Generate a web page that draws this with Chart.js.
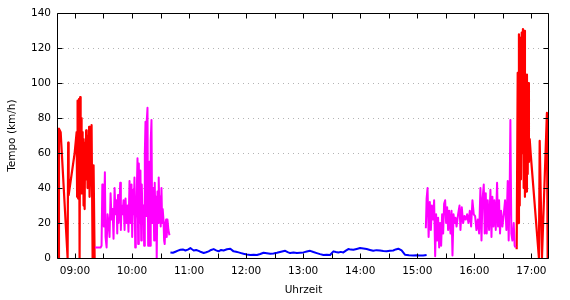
<!DOCTYPE html>
<html>
<head>
<meta charset="utf-8">
<script src="https://cdn.jsdelivr.net/npm/chart.js@4/dist/chart.umd.min.js"></script>
<style>
    html, body { margin: 0; padding: 0; background: #fff; }
    #wrap { width: 570px; height: 300px; }
</style>
</head>
<body>
<div id="wrap"><canvas id="speed_chart"></canvas></div>
<script>
// Zeiten in Minuten seit Mitternacht, Tempo in km/h
const xMin = 522.2;   // ca. 08:42
const xMax = 1038.5;  // ca. 17:18
const hourTicks = [540, 600, 660, 720, 780, 840, 900, 960, 1020];
const speedTicks = [0, 20, 40, 60, 80, 100, 120, 140];

// Auto (rot), Hinweg
const carTimes1 = [522.4, 523.2, 525.0, 532.3, 532.9, 533.4, 539.7, 541.8, 542.3, 542.8,
    543.4, 544.4, 544.9, 545.5, 546.0, 546.5, 547.0, 547.6, 548.1, 548.6,
    549.1, 549.7, 550.2, 550.7, 551.2, 551.8, 552.3, 552.8, 553.3, 553.9,
    554.4, 554.9, 555.4, 556.5, 557.5, 558.6, 559.6, 560.7];
const carSpeeds1 = [0, 74, 72, 0, 66, 36, 60, 72, 35, 90,
    34, 91, 0, 92, 55, 80, 37, 72, 50, 68,
    30, 62, 28, 66, 45, 73, 55, 65, 40, 70,
    57, 75, 35, 60, 76, 0, 53, 0];

// Fahrrad (magenta), vormittags
const bikeTimes1 = [561.0, 561.7, 567.0, 568.0, 568.8, 569.4, 570.4, 571.5, 572.2, 573.3,
    574.3, 575.4, 576.4, 577.5, 578.5, 579.6, 580.6, 581.7, 582.7, 583.8,
    584.5, 585.3, 585.9, 586.9, 587.6, 588.3, 589.0, 590.1, 591.1, 592.2,
    593.2, 594.3, 595.3, 596.3, 597.4, 598.4, 599.5, 600.2, 601.3, 601.9,
    602.6, 603.4, 604.0, 604.7, 605.8, 606.5, 607.2, 607.9, 608.9, 609.7,
    610.3, 611.0, 612.1, 612.8, 613.5, 614.2, 614.9, 615.6, 616.3, 617.0,
    617.6, 618.4, 619.1, 619.7, 620.5, 621.2, 621.8, 622.6, 623.3, 623.9,
    624.7, 625.4, 626.0, 626.8, 627.5, 628.1, 628.9, 629.6, 630.2, 631.0,
    631.7, 632.3, 633.1, 633.8, 634.4, 635.2, 635.9, 636.5, 637.3, 638.3,
    639.4];
const bikeSpeeds1 = [6, 6, 6, 7, 42, 35, 18, 49, 12, 6,
    25, 20, 12, 37, 22, 28, 11, 40, 25, 33,
    14, 36, 20, 30, 43, 16, 30, 25, 33, 16,
    34, 20, 30, 15, 44, 20, 42, 12, 39, 25,
    46, 6, 22, 30, 57, 8, 54, 20, 50, 10,
    42, 25, 30, 7, 60, 78, 24, 79, 86, 7,
    40, 55, 7, 67, 79, 20, 30, 40, 10, 43,
    22, 35, 0, 38, 20, 46, 25, 35, 18, 40,
    20, 28, 22, 10, 8, 20, 22, 12, 22, 16,
    13];

// zu Fuss (blau)
const walkTimes = [640.4, 643.0, 645.7, 648.3, 650.9, 653.5, 656.2, 658.8, 661.4, 663.1,
    664.9, 667.5, 670.1, 672.7, 675.4, 678.0, 680.6, 683.2, 685.9, 688.5,
    691.1, 693.7, 696.3, 699.9, 703.4, 706.8, 709.4, 712.1, 714.7, 717.3,
    720.8, 724.4, 727.9, 731.4, 734.9, 738.3, 741.8, 745.3, 748.8, 752.4,
    756.7, 761.1, 763.7, 766.3, 769.8, 773.4, 776.8, 780.3, 783.8, 787.3,
    790.8, 794.3, 797.8, 801.3, 804.8, 808.3, 811.8, 814.4, 817.0, 819.6,
    822.3, 824.9, 827.5, 830.1, 832.8, 836.3, 839.8, 843.3, 846.8, 850.2,
    853.7, 857.2, 860.8, 864.3, 867.8, 871.2, 874.7, 877.3, 880.0, 883.5,
    887.0, 891.3, 895.7, 899.2, 902.7, 906.2, 909.8];
const walkSpeeds = [3.2, 3.0, 3.6, 4.2, 4.7, 4.9, 4.3, 4.8, 5.7, 5.0,
    4.3, 4.6, 4.1, 3.4, 2.9, 3.3, 3.8, 4.6, 5.1, 4.4,
    3.8, 4.6, 4.3, 5.0, 5.3, 3.8, 3.6, 3.2, 2.8, 2.4,
    2.0, 1.7, 1.9, 1.7, 2.3, 3.0, 2.7, 2.4, 2.6, 3.0,
    3.6, 4.1, 3.4, 2.8, 3.1, 2.8, 3.0, 3.2, 3.7, 4.1,
    3.4, 2.8, 2.2, 1.7, 1.9, 1.7, 3.8, 3.4, 3.2, 3.5,
    3.2, 4.2, 5.1, 4.8, 4.7, 5.2, 5.7, 5.4, 5.1, 4.6,
    4.1, 4.5, 4.3, 4.0, 3.8, 4.1, 4.3, 4.9, 5.3, 4.3,
    1.9, 1.6, 1.5, 1.6, 1.5, 1.4, 1.7];

// Fahrrad (magenta), nachmittags
const bikeTimes2 = [909.0, 909.8, 910.8, 911.9, 913.2, 914.3, 915.3, 916.7, 917.7, 918.8,
    919.8, 920.9, 921.9, 923.0, 924.0, 925.1, 926.1, 927.2, 928.2, 929.3,
    930.3, 931.4, 932.4, 933.5, 934.9, 936.0, 937.0, 938.1, 939.2, 940.2,
    941.3, 942.9, 944.4, 945.4, 946.8, 948.2, 949.6, 951.0, 952.4, 953.8,
    955.2, 956.6, 958.0, 959.4, 960.8, 962.2, 963.6, 965.0, 966.4, 967.5,
    968.5, 969.9, 970.9, 972.0, 973.0, 974.1, 975.5, 976.9, 978.0, 979.0,
    980.1, 981.1, 982.5, 983.9, 984.9, 986.0, 987.0, 988.1, 989.5, 990.9,
    992.3, 993.7, 995.1, 996.1, 997.2, 997.9, 998.9, 1000.0, 1001.4, 1002.4,
    1003.5];
const bikeSpeeds2 = [17, 34, 40, 12, 32, 16, 30, 22, 33, 1,
    25, 10, 23, 6, 20, 7, 25, 14, 31, 33,
    20, 29, 16, 27, 14, 27, 1.5, 25, 20, 23,
    18, 25, 30, 16, 29, 20, 24, 22, 25, 20,
    27, 18, 33, 25, 24, 16, 22, 14, 40, 10,
    33, 42, 14, 37, 14, 33, 16, 39, 12, 35,
    18, 33, 16, 43, 18, 33, 14, 27, 18, 25,
    33, 16, 44, 10, 41, 79, 14, 10, 20, 7,
    6];

// Auto (rot), Rueckweg
const carTimes2 = [1004.5, 1005.6, 1006.3, 1006.9, 1007.7, 1008.4, 1009.0, 1009.8, 1010.5, 1011.1,
    1011.9, 1012.6, 1013.2, 1014.0, 1014.7, 1015.3, 1016.1, 1016.8, 1017.4, 1018.2,
    1019.2, 1027.9, 1028.7, 1031.1, 1036.3, 1037.1, 1038.1];
const carSpeeds2 = [5, 106, 20, 128, 30, 126, 45, 129, 60, 131,
    40, 130, 35, 90, 38, 105, 48, 100, 55, 68,
    60, 0, 67, 0, 83, 0, 40];

const RED = '#ff0000';
const MAGENTA = '#ff00ff';
const BLUE = '#0000ff';
const FONT = { family: 'DejaVu Sans', size: 10.5 };

function pairUp(times, speeds) {
    return times.map((t, i) => ({ x: t, y: speeds[i] }));
}

function clock(min) {
    const h = Math.floor(min / 60);
    const m = Math.round(min % 60);
    return String(h).padStart(2, '0') + ':' + String(m).padStart(2, '0');
}

function line(times, speeds, color, width) {
    return {
        data: pairUp(times, speeds),
        borderColor: color,
        borderWidth: width,
        pointRadius: 0,
        tension: 0,
        fill: false,
        borderJoinStyle: 'round'
    };
}

// Rahmen und nach innen zeigende Striche (wie gnuplot)
const frameTicks = {
    id: 'frameTicks',
    afterDraw(chart) {
        const { ctx, chartArea: a } = chart;
        const xs = chart.scales.x;
        const ys = chart.scales.y;
        const L = Math.round(a.left) - 0.5;
        const R = Math.round(a.right) - 0.5;
        const T = Math.round(a.top) + 0.5;
        const B = Math.round(a.bottom) + 0.5;
        ctx.save();
        ctx.strokeStyle = '#000';
        ctx.lineWidth = 1;
        ctx.beginPath();
        ctx.rect(L, T, R - L, B - T);

        const halfTicks = hourTicks.slice(1).map((h, i) => (h + hourTicks[i]) / 2);
        hourTicks.concat(halfTicks).forEach(v => {
            const px = Math.round(xs.getPixelForValue(v)) + 0.5;
            ctx.moveTo(px, B); ctx.lineTo(px, B - 5);
            ctx.moveTo(px, T); ctx.lineTo(px, T + 5);
        });
        speedTicks.forEach(v => {
            const py = Math.round(ys.getPixelForValue(v)) + 0.5;
            ctx.moveTo(L, py); ctx.lineTo(L + 5, py);
            ctx.moveTo(R, py); ctx.lineTo(R - 5, py);
        });
        ctx.stroke();
        ctx.restore();
    }
};

new Chart(document.getElementById('speed_chart'), {
    type: 'line',
    data: {
        datasets: [
            line(walkTimes, walkSpeeds, BLUE, 2),
            line(bikeTimes1, bikeSpeeds1, MAGENTA, 2),
            line(bikeTimes2, bikeSpeeds2, MAGENTA, 2),
            line(carTimes1, carSpeeds1, RED, 2.2),
            line(carTimes2, carSpeeds2, RED, 2.2)
        ]
    },
    options: {
        responsive: true,
        maintainAspectRatio: false,
        animation: false,
        layout: { padding: { top: 13, right: 21, left: 0, bottom: 0 } },
        plugins: {
            legend: { display: false },
            tooltip: { enabled: false }
        },
        scales: {
            x: {
                type: 'linear',
                min: xMin,
                max: xMax,
                afterBuildTicks: s => { s.ticks = hourTicks.map(v => ({ value: v })); },
                afterFit: s => { s.height = 42; },
                ticks: {
                    callback: v => clock(v),
                    font: FONT,
                    color: '#000',
                    padding: 7,
                    maxRotation: 0,
                    autoSkip: false
                },
                grid: { display: false, drawTicks: false },
                border: { display: false },
                title: { display: true, text: 'Uhrzeit', font: FONT, color: '#000', padding: { top: 2, bottom: 3 } }
            },
            y: {
                min: 0,
                max: 140,
                afterBuildTicks: s => { s.ticks = speedTicks.map(v => ({ value: v })); },
                afterFit: s => { s.width = 58; },
                ticks: { font: FONT, color: '#000', padding: 7 },
                grid: {
                    drawTicks: false,
                    lineWidth: 1,
                    color: c => (c.tick.value === 0 || c.tick.value === 140) ? 'rgba(0,0,0,0)' : '#b4b4b4'
                },
                border: { display: false, dash: [1, 4] },
                title: { display: true, text: 'Tempo (km/h)', font: FONT, color: '#000', padding: { top: 6, bottom: 0 } }
            }
        }
    },
    plugins: [frameTicks]
});
</script>
</body>
</html>
